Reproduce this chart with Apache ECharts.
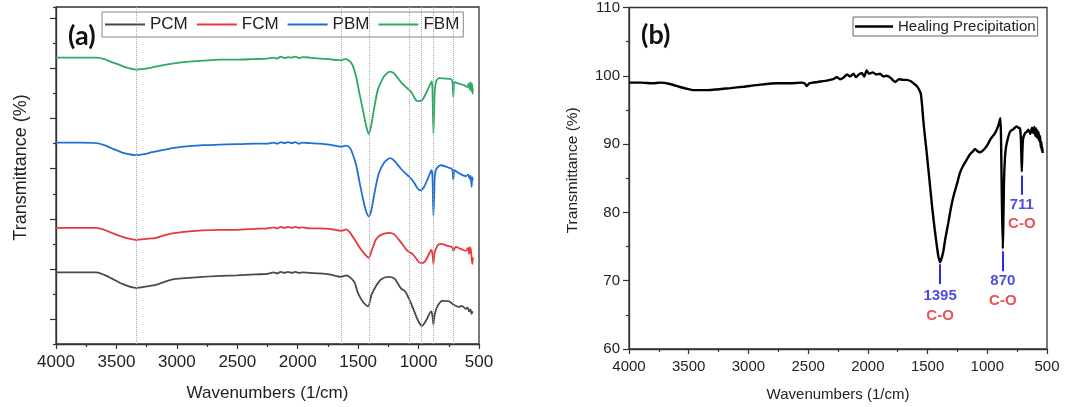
<!DOCTYPE html>
<html><head><meta charset="utf-8">
<script src="https://cdn.jsdelivr.net/npm/echarts@6/dist/echarts.min.js"></script>
<style>html,body{margin:0;padding:0;background:#fff}#c{width:1065px;height:407px}</style>
</head><body><div id="c"></div>
<script>
// ---------- shared ----------
const xTickLabels = [4000, 3500, 3000, 2500, 2000, 1500, 1000, 500];
const seriesNamesA = ['PCM', 'FCM', 'PBM', 'FBM'];
const dottedLinesA = [3340, 1640, 1410, 1080, 980, 875, 712];
const yMajorA = [5, 15, 25, 35, 45, 55, 65];     // unlabeled offset axis, ticks only
const yTickLabelsB = [60, 70, 80, 90, 100, 110];

// ---------- panel (a): offset spectra ----------
const pcmWave = [4000,3800,3665,3600,3540,3450,3339,3250,3172,3090,3010,2900,2786,2650,2507,2350,2250,2200,2170,2140,2110,2080,2050,2020,1990,1960,1900,1818,1740,1640,1599,1566,1530,1500,1460,1418,1390,1352,1311,1251,1201,1146,1111,1069,1009,986,972,940,896,885,877,869,844,802,747,706,665,640,610,595,582,570,562,555,550];
const pcmT    = [14.3,14.3,14.3,13.8,13.1,12.0,11.2,11.5,11.8,12.5,13.0,13.2,13.4,13.6,13.7,13.9,14.0,14.3,14.1,14.4,14.2,14.4,14.2,14.4,14.2,14.3,14.2,14.1,13.9,13.4,13.7,13.3,12.3,10.1,8.4,7.5,9.8,11.6,12.9,13.4,13.1,11.1,10.5,8.5,4.9,3.9,3.6,4.6,6.5,5.6,3.9,5.6,7.5,8.6,8.5,7.8,7.4,7.6,7.0,7.3,6.5,6.9,6.0,6.4,6.5];

const fcmWave = [4000,3800,3665,3600,3540,3450,3339,3250,3172,3090,3010,2900,2786,2650,2507,2350,2250,2200,2170,2140,2110,2080,2050,2020,1990,1960,1900,1818,1740,1640,1599,1566,1530,1489,1448,1412,1393,1352,1311,1242,1201,1146,1091,1050,1009,981,946,907,896,885,877,869,844,816,761,720,712,692,651,610,590,582,575,569,562,555,550];
const fcmT    = [23.2,23.2,23.2,22.8,22.2,21.4,20.8,21.0,21.2,21.8,22.2,22.5,22.7,22.8,22.8,23.0,23.1,23.3,23.1,23.4,23.2,23.4,23.2,23.4,23.2,23.3,23.1,23.1,23.0,22.6,22.9,22.2,20.9,19.3,18.0,17.2,18.3,20.9,21.8,22.2,21.9,20.3,18.6,18.0,16.7,16.1,16.5,18.3,18.8,18.0,16.0,18.0,19.6,20.0,19.6,19.3,18.6,19.4,19.0,18.6,19.2,18.0,19.3,19.0,17.5,16.0,17.3];

const pbmWave = [4000,3800,3665,3600,3540,3480,3420,3339,3270,3205,3100,3010,2900,2786,2650,2507,2350,2250,2200,2170,2140,2110,2080,2050,2020,1990,1960,1900,1818,1740,1640,1599,1566,1544,1516,1489,1461,1434,1412,1393,1365,1330,1283,1236,1201,1146,1091,1050,1009,987,954,912,893,885,877,870,866,852,816,761,726,718,713,708,704,665,610,590,577,570,561,556,550];
const pbmT    = [40.2,40.2,40.1,39.7,39.1,38.5,38.0,37.7,37.9,38.3,38.8,39.2,39.5,39.7,39.8,39.9,40.0,40.0,40.2,40.0,40.3,40.1,40.3,40.1,40.3,40.0,40.2,40.1,40.0,39.8,39.4,39.6,39.1,37.9,35.7,32.4,29.1,26.5,25.5,26.5,30.1,34.0,36.3,37.1,36.6,35.0,33.7,32.7,31.1,30.7,31.4,33.7,34.7,33.4,25.6,30.0,33.4,35.0,35.7,35.3,35.0,34.5,32.8,34.0,34.7,34.1,33.5,33.8,33.0,33.6,31.4,33.3,32.7];

const fbmWave = [4000,3800,3665,3600,3540,3480,3428,3339,3232,3150,3065,2980,2897,2780,2646,2500,2367,2250,2200,2170,2140,2110,2080,2050,2020,1990,1960,1900,1818,1740,1670,1640,1614,1599,1580,1566,1544,1516,1489,1461,1434,1412,1393,1365,1338,1297,1265,1236,1201,1146,1091,1063,1022,995,967,926,899,890,885,877,870,866,852,830,775,726,718,713,708,704,665,624,596,585,577,570,563,558,553,550];
const fbmT    = [57.2,57.2,57.2,56.9,56.3,55.8,55.3,54.8,55.1,55.5,55.9,56.2,56.4,56.6,56.8,56.8,56.9,57.0,57.2,57.0,57.4,57.1,57.3,57.2,57.4,57.1,57.3,57.2,57.0,56.9,56.7,56.7,56.9,56.9,56.6,56.4,55.6,53.3,50.0,46.8,43.6,41.9,43.5,47.4,50.7,53.0,54.0,54.4,54.0,52.3,51.0,50.4,48.7,48.5,48.8,50.7,52.1,52.5,50.7,42.0,47.0,50.7,52.6,53.1,53.0,52.8,52.0,49.4,51.5,52.3,52.0,51.7,51.3,52.0,50.8,52.3,50.5,52.0,50.0,51.0];

// ---------- panel (b): healing precipitation ----------
const hpWave = [4000,3900,3800,3740,3657,3580,3517,3460,3406,3340,3266,3150,3043,2900,2763,2650,2560,2530,2512,2490,2420,2345,2290,2260,2233,2200,2175,2150,2120,2100,2075,2050,2030,2010,1990,1960,1930,1898,1870,1840,1810,1787,1770,1740,1703,1675,1640,1610,1591,1575,1557,1545,1536,1520,1507,1480,1460,1438,1420,1410,1396,1382,1368,1350,1326,1305,1284,1250,1229,1200,1173,1145,1117,1103,1085,1061,1040,1005,970,935,910,895,890,885,878,870,866,860,852,843,825,810,780,754,740,726,718,711,706,700,684,670,656,640,625,614,605,598,592,586,580,575,570,564,558,552,547,543,540,536];
const hpT    = [99.0,99.0,98.9,99.0,98.8,98.4,98.1,97.9,97.9,97.9,98.0,98.2,98.4,98.7,98.9,98.9,99.0,98.9,98.5,98.9,99.1,99.3,99.5,99.8,99.5,99.8,100.2,99.9,100.3,99.8,100.2,100.4,99.9,100.8,100.3,100.5,100.2,100.3,99.9,100.0,99.7,99.3,99.1,99.5,99.4,99.4,99.2,98.8,98.5,98.1,97.4,95.5,93.5,90.8,88.7,84.0,80.5,77.2,74.8,73.6,72.7,73.3,74.3,76.3,78.5,80.6,82.3,84.4,85.8,86.9,87.7,88.5,89.0,89.3,89.0,88.8,89.0,89.7,90.8,91.6,92.6,93.5,93.8,91.0,82.0,74.7,78.0,84.5,88.0,89.6,91.0,91.8,92.2,92.6,92.4,92.3,90.5,86.0,89.0,90.8,91.6,91.8,92.1,91.5,92.4,91.6,92.5,91.2,92.3,91.0,92.0,90.8,91.7,90.4,91.2,89.5,90.3,89.0,89.6,88.7];

const peakWaves   = [1395, 870, 711];
const peakNumbers = ['1395', '870', '711'];
const peakBonds   = ['C-O', 'C-O', 'C-O'];
const peakLineTop = [72.4, 74.3, 85.4];
const peakLineBot = [69.5, 71.4, 82.6];
const peakTextAt  = [66.3, 68.5, 79.7];

// ---------- build ----------
const zip = (xs, ys) => xs.map((x, i) => [x, ys[i]]);
const colorsA = ['#4a4a4a', '#e8383c', '#1f6fd6', '#2fa866'];
const dataA = [zip(pcmWave, pcmT), zip(fcmWave, fcmT), zip(pbmWave, pbmT), zip(fbmWave, fbmT)];
const FONT = '"Liberation Sans", Arial, sans-serif';
const xMin = Math.min(...xTickLabels), xMax = Math.max(...xTickLabels);
const xInt = xTickLabels[0] - xTickLabels[1];

function xAxisFor(gridIndex, fs, nameGap) {
  return {
    type: 'value', gridIndex, min: xMin, max: xMax, interval: xInt, inverse: true,
    name: 'Wavenumbers (1/cm)', nameLocation: 'middle', nameGap,
    nameTextStyle: { fontFamily: FONT, fontSize: fs, color: '#222' },
    axisLine: { show: true, lineStyle: { color: '#333', width: 1.3 } },
    axisTick: { show: true, inside: false, length: 5, lineStyle: { color: '#333', width: 1.2 } },
    minorTick: { show: true, splitNumber: 2, length: 3, lineStyle: { color: '#333', width: 1.2 } },
    axisLabel: { fontFamily: FONT, fontSize: fs, color: '#222', margin: 10, formatter: v => String(v) },
    splitLine: { show: false }
  };
}

const option = {
  animation: false,
  backgroundColor: '#fff',
  title: [
    { text: '(a)', left: 63, top: 18, textStyle: { fontFamily: 'Lato, sans-serif', fontWeight: 'bold', fontSize: 27, color: '#111' } },
    { text: '(b)', left: 636, top: 17, textStyle: { fontFamily: 'Lato, sans-serif', fontWeight: 'bold', fontSize: 27, color: '#111' } }
  ],
  legend: [
    { data: seriesNamesA, left: 102, top: 12, orient: 'horizontal', icon: 'rect', itemWidth: 40, itemHeight: 2, itemGap: 9,
      padding: [4, 4, 4, 3], backgroundColor: '#fff', borderColor: '#888', borderWidth: 1, borderRadius: 0,
      textStyle: { fontFamily: FONT, fontSize: 17, color: '#222' } },
    { data: ['Healing Precipitation'], left: 853, top: 17, icon: 'rect', itemWidth: 38, itemHeight: 2.5,
      padding: [2, 2, 2, 2], backgroundColor: '#fff', borderColor: '#666', borderWidth: 1, borderRadius: 0,
      textStyle: { fontFamily: FONT, fontSize: 15, color: '#222' } }
  ],
  grid: [
    { left: 56, right: 586, top: 7, bottom: 57, show: true, borderColor: '#333', borderWidth: 1.3, backgroundColor: 'transparent' },
    { left: 629, right: 18, top: 7, bottom: 57, show: true, borderColor: '#333', borderWidth: 1.3, backgroundColor: 'transparent' }
  ],
  xAxis: [xAxisFor(0, 17, 41), xAxisFor(1, 15, 38)],
  yAxis: [
    { type: 'value', gridIndex: 0, position: 'left', min: 0, max: 67.3, interval: 10,
      name: 'Transmittance (%)', nameLocation: 'middle', nameGap: 26,
      nameTextStyle: { fontFamily: FONT, fontSize: 18, color: '#222', padding: [0, 0, 0, 16] },
      axisLine: { show: true, lineStyle: { color: '#333', width: 1.3 } },
      axisTick: { show: true, length: 6, customValues: yMajorA, lineStyle: { color: '#333', width: 1.2 } },
      axisLabel: { show: false }, splitLine: { show: false } },
    { type: 'value', gridIndex: 0, position: 'left', min: 0, max: 67.3, interval: 10,
      axisLine: { show: false }, axisTick: { show: true, length: 3, lineStyle: { color: '#333', width: 1.2 } },
      axisLabel: { show: false }, splitLine: { show: false } },
    { type: 'value', gridIndex: 1, position: 'left', min: yTickLabelsB[0], max: yTickLabelsB[yTickLabelsB.length - 1],
      interval: yTickLabelsB[1] - yTickLabelsB[0],
      name: 'Transmittance (%)', nameLocation: 'middle', nameGap: 48,
      nameTextStyle: { fontFamily: FONT, fontSize: 15.5, color: '#222', padding: [0, 0, 0, 16] },
      axisLine: { show: true, lineStyle: { color: '#333', width: 1.3 } },
      axisTick: { show: true, length: 6, lineStyle: { color: '#333', width: 1.2 } },
      minorTick: { show: true, splitNumber: 2, length: 3, lineStyle: { color: '#333', width: 1.2 } },
      axisLabel: { fontFamily: FONT, fontSize: 15, color: '#222', margin: 9 },
      splitLine: { show: false } }
  ],
  series: [
    { type: 'line', name: 'guides', xAxisIndex: 0, yAxisIndex: 0, data: [], silent: true,
      markLine: { silent: true, symbol: 'none', label: { show: false },
        lineStyle: { type: 'dotted', color: '#a8a8a8', width: 1 },
        data: dottedLinesA.map(w => ({ xAxis: w })) } },
    ...seriesNamesA.map((n, i) => ({
      type: 'line', name: n, xAxisIndex: 0, yAxisIndex: 0, data: dataA[i],
      symbol: 'none', showSymbol: false, smooth: 0.25,
      lineStyle: { color: colorsA[i], width: 1.8 }, itemStyle: { color: colorsA[i] }
    })),
    { type: 'line', name: 'Healing Precipitation', xAxisIndex: 1, yAxisIndex: 2, data: zip(hpWave, hpT),
      symbol: 'none', showSymbol: false, smooth: 0.2,
      lineStyle: { color: '#000', width: 2.4 }, itemStyle: { color: '#000' } },
    { type: 'scatter', name: 'peaks', xAxisIndex: 1, yAxisIndex: 2, symbolSize: 0, silent: true,
      data: peakWaves.map((w, i) => ({ value: [w, peakTextAt[i]], num: peakNumbers[i], bond: peakBonds[i] })),
      label: { show: true, position: 'inside',
        formatter: p => '{n|' + p.data.num + '}\n{c|' + p.data.bond + '}',
        rich: {
          n: { color: '#2020d8', fontFamily: FONT, fontWeight: 'bold', fontSize: 15, lineHeight: 19.5, align: 'center' },
          c: { color: '#e8242b', fontFamily: FONT, fontWeight: 'bold', fontSize: 15, lineHeight: 19.5, align: 'center' }
        } },
      markLine: { silent: true, symbol: 'none', label: { show: false },
        lineStyle: { type: 'solid', color: '#2a2ee0', width: 2 },
        data: peakWaves.map((w, i) => [{ coord: [w, peakLineTop[i]] }, { coord: [w, peakLineBot[i]] }]) } }
  ]
};
const chart = echarts.init(document.getElementById('c'), null, { renderer: 'canvas' });
chart.setOption(option);
</script></body></html>
